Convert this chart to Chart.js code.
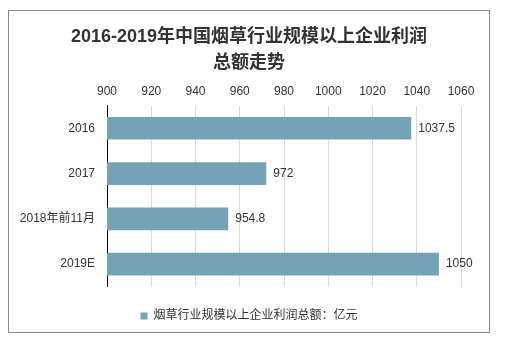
<!DOCTYPE html>
<html>
<head>
<meta charset="utf-8">
<script src="https://cdn.jsdelivr.net/npm/chart.js@4/dist/chart.umd.min.js"></script>
<style>
  html, body { margin: 0; padding: 0; background: #fff; }
  body { width: 517px; height: 341px; position: relative; }
  #box { position: absolute; left: 8px; top: 10px; width: 480px; height: 321px; border: 1px solid #8c8c8c; }
</style>
</head>
<body>
<div id="box"><canvas id="c" width="480" height="321"></canvas></div>
<script>
const categories = ['2016', '2017', '2018年前11月', '2019E'];
const profits = [1037.5, 972, 954.8, 1050];
const valueLabels = ['1037.5', '972', '954.8', '1050'];
const seriesName = '烟草行业规模以上企业利润总额：亿元';
const titleLines = ['2016-2019年中国烟草行业规模以上企业利润', '总额走势'];

const FONT = '"Liberation Sans", Arial, "Noto Sans CJK SC", sans-serif';
const BAR = '#76a2b5';

// draw value text at the end of each bar
const endLabels = {
  id: 'endLabels',
  afterDatasetsDraw(chart) {
    const ctx = chart.ctx;
    const meta = chart.getDatasetMeta(0);
    ctx.save();
    ctx.font = '12px ' + FONT;
    ctx.fillStyle = '#333';
    ctx.textBaseline = 'middle';
    ctx.textAlign = 'left';
    meta.data.forEach((bar, i) => {
      ctx.fillText(valueLabels[i], bar.x + 7, bar.y);
    });
    ctx.restore();
  }
};

new Chart(document.getElementById('c'), {
  type: 'bar',
  data: {
    labels: categories,
    datasets: [{
      label: seriesName,
      data: profits,
      backgroundColor: BAR,
      barPercentage: 0.5,
      categoryPercentage: 1.0
    }]
  },
  options: {
    indexAxis: 'y',
    responsive: false,
    animation: false,
    layout: { padding: { left: 0, right: 0, top: 4, bottom: 0 } },
    plugins: {
      title: {
        display: true,
        text: titleLines,
        color: '#333',
        font: { family: FONT, size: 18, weight: 'bold', lineHeight: 1.45 },
        padding: { top: 9, bottom: 1 }
      },
      legend: {
        position: 'bottom',
        title: { display: true, text: ' ', font: { size: 1 }, padding: { top: 12, bottom: 0 } },
        labels: {
          boxWidth: 7, boxHeight: 7,
          color: '#333',
          font: { family: FONT, size: 12 }
        }
      },
      tooltip: { enabled: false }
    },
    scales: {
      x: {
        position: 'top',
        min: 900, max: 1060,
        ticks: { stepSize: 20, color: '#333', font: { family: FONT, size: 12 }, padding: 7,
                 callback: v => String(v) },
        grid: { color: '#d9d9d9', drawTicks: false },
        border: { display: false }
      },
      y: {
        ticks: { color: '#333', font: { family: FONT, size: 12 }, padding: 12 },
        grid: { display: false, drawTicks: false },
        border: { display: true, color: '#000' },
        afterFit(scale) { scale.width = 98; }
      },
      // empty right-hand gutter so the title and legend stay centred on the frame
      yPad: {
        position: 'right',
        ticks: { display: false },
        grid: { display: false, drawTicks: false },
        border: { display: false },
        afterFit(scale) { scale.width = 28; }
      }
    }
  },
  plugins: [endLabels]
});
</script>
</body>
</html>
